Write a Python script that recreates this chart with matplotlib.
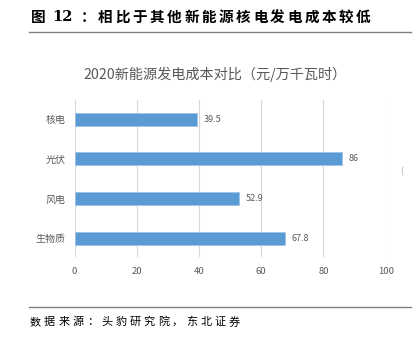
import matplotlib.pyplot as plt
from matplotlib.lines import Line2D

plt.rcParams['font.family'] = ['Noto Sans CJK SC', 'DejaVu Sans']

# 2020 generation cost by source (yuan per 10k kWh)
categories = ['核电', '光伏', '风电', '生物质']
costs = [39.5, 86, 52.9, 67.8]
xticks = [0, 20, 40, 60, 80, 100]

header_no = '12'
header_body = '相比于其他新能源核电发电成本较低'
chart_title = '2020新能源发电成本对比（元/万千瓦时）'
source = '数据来源：头豹研究院，东北证券'

bar_color = '#5B9BD5'
text_grey = '#595959'
grid_grey = '#D9D9D9'

W, H = 420, 343


def px(x, y):
    return x / W, 1 - y / H


def spaced_text(fig, x, y, s, pitch, **kw):
    # draw a string one glyph at a time, glyph centres a fixed pitch apart
    for i, ch in enumerate(s):
        fig.text(*px(x + i * pitch, y), ch, ha='center', va='center', **kw)


fig = plt.figure(figsize=(4.2, 3.43), dpi=100)
ax = fig.add_axes([74.5 / W, 1 - 257 / H, 311.2 / W, 157 / H])

ypos = list(range(len(categories)))
ax.barh(ypos, costs, height=0.33, color=bar_color, edgecolor='#9DC3E6',
        linewidth=0.6, zorder=3)
for y, v in zip(ypos, costs):
    ax.text(v + 2, y, f'{v:g}', va='center', ha='left', fontsize=6.5,
            color=text_grey)

ax.set_xlim(0, 100)
ax.set_ylim(3.47, -0.48)
ax.set_yticks(ypos)
ax.set_yticklabels(categories, fontsize=7.2, color=text_grey)
ax.set_xticks(xticks)
ax.set_xticklabels([str(t) for t in xticks], fontsize=6.8, color=text_grey)
ax.tick_params(axis='x', length=0, pad=7)
ax.tick_params(axis='y', length=0, pad=6.5)
ax.grid(axis='x', color=grid_grey, linewidth=0.8, zorder=0)
for s in ax.spines.values():
    s.set_visible(False)

fig.text(*px(215, 74), chart_title, ha='center', va='center',
         fontsize=10.2, color=text_grey)
fig.text(*px(402, 172), '(', ha='center', va='center',
         fontsize=6, color='#A0A0A0')

# header and footer with rules
hdr = dict(fontsize=10.5, fontweight='bold', color='black')
fig.text(*px(38, 17), '图', ha='center', va='center', **hdr)
fig.text(*px(62, 17), header_no, ha='center', va='center',
         family=['DejaVu Serif'], **hdr)
fig.text(*px(88, 17), '：', ha='center', va='center', **hdr)
spaced_text(fig, 105.5, 17, header_body, 17.2, **hdr)

fig.add_artist(Line2D([29 / W, 411 / W], [1 - 32 / H, 1 - 32 / H],
                      color='#7F7F7F', linewidth=1.0))
fig.add_artist(Line2D([29 / W, 411 / W], [1 - 307 / H, 1 - 307 / H],
                      color='#7F7F7F', linewidth=1.0))
spaced_text(fig, 35.5, 322, source, 14.2, fontsize=8, color='black')

fig.savefig('out.png', dpi=100)
